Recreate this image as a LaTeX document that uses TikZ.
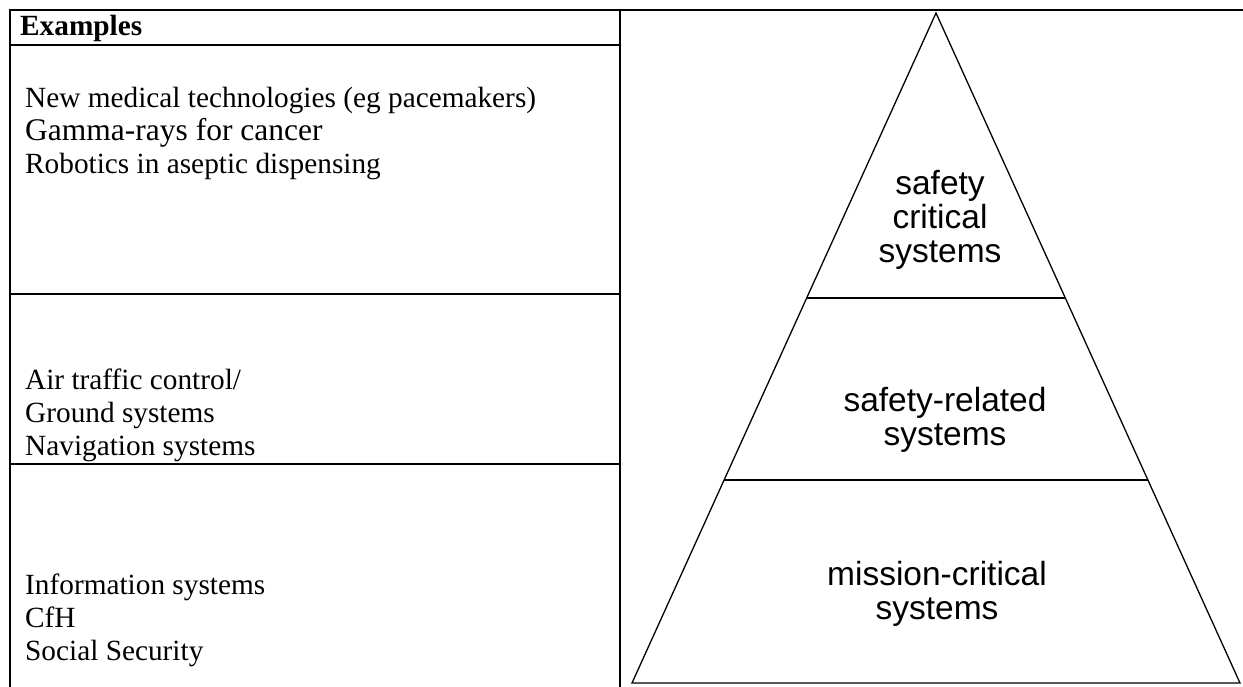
\documentclass[tikz,border=0pt]{standalone}
\usepackage{fontspec}
\setmainfont{Liberation Serif}
\newfontfamily\pyrfont{Liberation Sans}
\usetikzlibrary{positioning, calc}

\begin{document}
\begin{tikzpicture}[
        x=1pt, y=-1pt,
        grid/.style={line width=2.2pt, black},
        pyr/.style={line width=1.3pt, black},
        cell/.style={anchor=base west, align=left, inner sep=0pt, font=\fontsize{29.3}{33}\selectfont},
        level/.style={align=center, inner sep=0pt, font=\pyrfont\fontsize{33.5}{34}\selectfont}
    ]
        \useasboundingbox (0,0) rectangle (1243,687);

        % table on the left
        \draw[grid] (10,687) -- (10,10) -- (1243,10);
        \draw[grid] (620,10) -- (620,687);
        \draw[grid] (10,45) -- (620,45);
        \draw[grid] (10,294) -- (620,294);
        \draw[grid] (10,464) -- (620,464);

        % base anchor = last line
        \node[cell, font=\bfseries\fontsize{29.3}{33}\selectfont] (head) at (20,36) {Examples};
        \node[cell] (medical) at (25,174) {New medical technologies (eg pacemakers)\\{\fontsize{31.5}{33}\selectfont Gamma-rays for cancer}\\Robotics in aseptic dispensing};
        \node[cell] (transport) at (25,455) {Air traffic control/\\Ground systems\\Navigation systems};
        \node[cell] (info) at (25,660) {Information systems\\CfH\\Social Security};

        % pyramid
        \coordinate (apex) at (936,13);
        \coordinate (bl) at (632,683);
        \coordinate (br) at (1240,683);
        \draw[pyr] (bl) -- (apex) -- (br) -- cycle;
        \draw[pyr] ($(apex)!0.4254!(bl)$) -- ($(apex)!0.4254!(br)$);
        \draw[pyr] ($(apex)!0.697!(bl)$) -- ($(apex)!0.697!(br)$);

        \node[level] (critical) at (940,220) {safety\\critical\\systems};
        \node[level] (related) at (945,420) {safety-related\\systems};
        \node[level] (mission) at (937,594) {mission-critical\\systems};
    \end{tikzpicture}
\end{document}
